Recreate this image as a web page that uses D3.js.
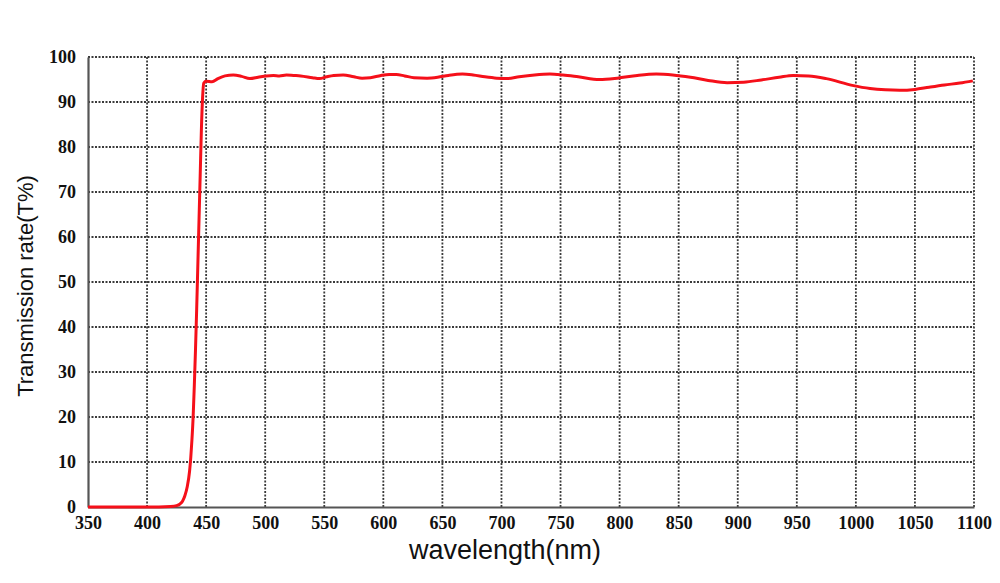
<!DOCTYPE html>
<html>
<head>
<meta charset="utf-8">
<script src="https://cdn.jsdelivr.net/npm/d3@7"></script>
<style>
  body { margin: 0; background: #fff; }
  .tick text { font-family: "Liberation Serif", serif; font-weight: bold; font-size: 18px; fill: #111; }
</style>
</head>
<body>
<div id="chart"></div>
<script>
// wavelength (nm) and transmission (%)
const wavelength = [350, 380, 410, 420, 425, 428, 430, 432, 434, 436, 437, 438, 439, 440, 441, 442, 443, 444, 445, 446, 447, 448, 450, 455, 460, 466, 473, 480, 487, 494, 501, 507, 512, 518, 524, 530, 540, 546, 552, 558, 566, 575, 582, 589, 598, 605, 611, 618, 626, 637, 646, 655, 667, 676, 686, 696, 705, 715, 728, 741, 752, 765, 783, 798, 815, 831, 845, 860, 875, 891, 905, 920, 935, 947, 960, 975, 997, 1012, 1025, 1037, 1050, 1062, 1075, 1088, 1099];
const transmission = [0, 0, 0, 0.1, 0.3, 0.7, 1.3, 2.5, 4.5, 8, 11, 15, 20, 27, 35, 44, 54, 64, 74, 84, 91, 94.2, 94.6, 94.5, 95.2, 95.8, 96.0, 95.7, 95.2, 95.5, 95.8, 95.9, 95.8, 96.0, 95.9, 95.8, 95.4, 95.2, 95.6, 95.9, 96.0, 95.6, 95.3, 95.4, 95.9, 96.1, 96.1, 95.8, 95.4, 95.3, 95.5, 95.9, 96.2, 96.0, 95.6, 95.3, 95.2, 95.6, 96.0, 96.2, 96.0, 95.6, 95.0, 95.3, 95.9, 96.2, 96.0, 95.5, 94.8, 94.3, 94.4, 94.9, 95.5, 95.9, 95.8, 95.2, 93.7, 93.0, 92.7, 92.6, 92.8, 93.3, 93.8, 94.2, 94.7];

const xTicks = d3.range(350, 1101, 50);
const yTicks = d3.range(0, 101, 10);

const W = 1000, H = 583;
const margin = {top: 57, right: 26, bottom: 76, left: 88};
const width = W - margin.left - margin.right;
const height = H - margin.top - margin.bottom;

const svg = d3.select("#chart").append("svg")
  .attr("width", W).attr("height", H);
const g = svg.append("g")
  .attr("transform", `translate(${margin.left},${margin.top})`);

const x = d3.scaleLinear().domain([350, 1100]).range([0, width]);
const y = d3.scaleLinear().domain([0, 100]).range([height, 0]);

// dotted grid
g.append("g").selectAll("line").data(xTicks.slice(1)).enter().append("line")
  .attr("x1", d => x(d)).attr("x2", d => x(d))
  .attr("y1", 0).attr("y2", height)
  .attr("stroke", "#3a3a3a").attr("stroke-width", 1.8)
  .attr("stroke-dasharray", "2,1.5");
g.append("g").selectAll("line").data(yTicks.slice(1)).enter().append("line")
  .attr("x1", 0).attr("x2", width)
  .attr("y1", d => y(d)).attr("y2", d => y(d))
  .attr("stroke", "#3a3a3a").attr("stroke-width", 1.8)
  .attr("stroke-dasharray", "2,1.5");

// axes
const xAxis = g.append("g")
  .attr("transform", `translate(0,${height})`)
  .call(d3.axisBottom(x).tickValues(xTicks).tickSize(0).tickPadding(9).tickFormat(d3.format("d")));
xAxis.select(".domain").attr("stroke", "#555").attr("stroke-width", 2.2);

const yAxis = g.append("g")
  .call(d3.axisLeft(y).tickValues(yTicks).tickSize(0).tickPadding(12).tickFormat(d3.format("d")));
yAxis.select(".domain").attr("stroke", "#555").attr("stroke-width", 2.2);

// curve
const pts = wavelength.map((w, i) => [w, transmission[i]]);
g.append("path")
  .datum(pts)
  .attr("fill", "none")
  .attr("stroke", "#f5101a")
  .attr("stroke-width", 3)
  .attr("stroke-linejoin", "round")
  .attr("d", d3.line().x(d => x(d[0])).y(d => y(d[1])).curve(d3.curveMonotoneX));

// axis titles
svg.append("text")
  .attr("transform", `translate(33,${margin.top + height / 2 + 4}) rotate(-90)`)
  .attr("text-anchor", "middle")
  .style("font-family", "Liberation Sans, Arial, sans-serif")
  .style("font-size", "22px")
  .attr("fill", "#111")
  .text("Transmission rate(T%)");

svg.append("text")
  .attr("x", 505).attr("y", 559)
  .attr("text-anchor", "middle")
  .style("font-family", "Liberation Sans, Arial, sans-serif")
  .style("font-size", "27px")
  .attr("fill", "#111")
  .text("wavelength(nm)");
</script>
</body>
</html>
